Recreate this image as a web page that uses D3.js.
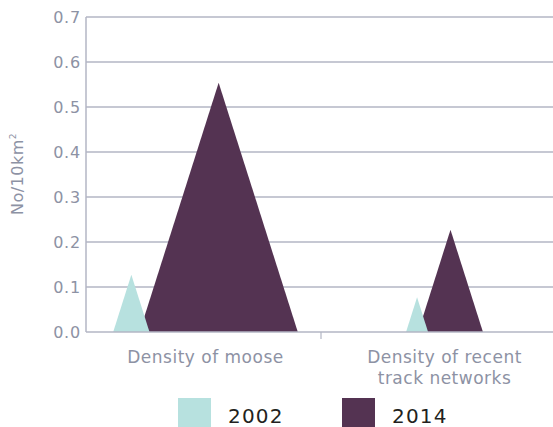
<!DOCTYPE html>
<html>
<head>
<meta charset="utf-8">
<script src="https://cdn.jsdelivr.net/npm/d3@7"></script>
<style>
  html, body { margin: 0; padding: 0; background: #fff; }
  text { font-family: "DejaVu Sans", sans-serif; }
</style>
</head>
<body>
<svg id="chart" width="553" height="427"></svg>
<script>
const categories = [['Density of moose'], ['Density of recent', 'track networks']];
const series = ['2002', '2014'];
const values2002 = [0.127, 0.077];
const values2014 = [0.554, 0.227];
const yTicks = [0, 0.1, 0.2, 0.3, 0.4, 0.5, 0.6, 0.7];

const COLORS = ['#b7e1df', '#543352'];
const GRID = '#b3b6c4';
const TEXT_FILL = '#8d92a4';

const svg = d3.select('#chart');
const margin = { left: 86, top: 17, bottom: 332 };

const y = d3.scaleLinear().domain([0, 0.7]).range([margin.bottom, margin.top]);
const x = d3.scaleBand().domain(d3.range(categories.length)).range([margin.left, 564]);

// triangles keep a fixed aspect: base width = ASPECT * height
const ASPECT = 0.635;
const OVERLAP = 10;

// grid
svg.append('g')
  .selectAll('line')
  .data(yTicks.slice(1))
  .enter()
  .append('line')
  .attr('x1', margin.left)
  .attr('x2', 553)
  .attr('y1', d => y(d))
  .attr('y2', d => y(d))
  .attr('stroke', GRID)
  .attr('stroke-width', 1.5);

// tick labels
svg.append('g')
  .selectAll('text')
  .data(yTicks)
  .enter()
  .append('text')
  .attr('x', 81)
  .attr('y', d => y(d))
  .attr('dy', '0.36em')
  .attr('text-anchor', 'end')
  .attr('fill', TEXT_FILL)
  .attr('font-size', '16px')
  .attr('letter-spacing', '0.8px')
  .text(d => d.toFixed(1));

// triangles
const groups = categories.map((c, i) => {
  const vals = [values2002[i], values2014[i]];
  const widths = vals.map(v => (y(0) - y(v)) * ASPECT);
  const total = d3.sum(widths) - OVERLAP;
  let left = x(i) + x.bandwidth() / 2 - total / 2;
  const tris = [];
  vals.forEach((v, s) => {
    tris.push({ s: s, v: v, left: left, w: widths[s] });
    left += widths[s] - OVERLAP;
  });
  return tris;
});

const triData = groups.flat().sort((a, b) => b.s - a.s);

svg.append('g')
  .selectAll('path')
  .data(triData)
  .enter()
  .append('path')
  .attr('fill', d => COLORS[d.s])
  .attr('d', d => 'M' + d.left + ',' + y(0) +
    'L' + (d.left + d.w / 2) + ',' + y(d.v) +
    'L' + (d.left + d.w) + ',' + y(0) + 'Z');

// axes lines
svg.append('line')
  .attr('x1', margin.left).attr('x2', margin.left)
  .attr('y1', margin.top).attr('y2', margin.bottom)
  .attr('stroke', GRID).attr('stroke-width', 1.5);
svg.append('line')
  .attr('x1', margin.left).attr('x2', 553)
  .attr('y1', margin.bottom).attr('y2', margin.bottom)
  .attr('stroke', GRID).attr('stroke-width', 1.5);
svg.append('line')
  .attr('x1', 321).attr('x2', 321)
  .attr('y1', margin.bottom).attr('y2', margin.bottom + 7)
  .attr('stroke', GRID).attr('stroke-width', 1.2);

// category labels
const catLabel = svg.append('g')
  .selectAll('text')
  .data(categories)
  .enter()
  .append('text')
  .attr('x', (d, i) => x(i) + x.bandwidth() / 2)
  .attr('y', 363)
  .attr('text-anchor', 'middle')
  .attr('fill', TEXT_FILL)
  .attr('font-size', '17px')
  .attr('letter-spacing', '0.5px');
catLabel.selectAll('tspan')
  .data(d => d)
  .enter()
  .append('tspan')
  .attr('x', function () { return d3.select(this.parentNode).attr('x'); })
  .attr('dy', (d, j) => j === 0 ? 0 : 21)
  .text(d => d);

// y title
svg.append('text')
  .attr('transform', 'translate(23,174) rotate(-90)')
  .attr('text-anchor', 'middle')
  .attr('fill', TEXT_FILL)
  .attr('font-size', '16px')
  .attr('letter-spacing', '0.5px')
  .html('No/10km<tspan dy="-7" font-size="9px">2</tspan>');

// legend
const legend = svg.append('g')
  .selectAll('g')
  .data(series)
  .enter()
  .append('g')
  .attr('transform', (d, i) => 'translate(' + (178 + i * 164) + ',398)');
legend.append('rect')
  .attr('width', 33)
  .attr('height', 33)
  .attr('fill', (d, i) => COLORS[i]);
legend.append('text')
  .attr('x', 50)
  .attr('y', 25)
  .attr('fill', '#231f20')
  .attr('font-size', '20px')
  .attr('letter-spacing', '1.2px')
  .text(d => d);
</script>
</body>
</html>
